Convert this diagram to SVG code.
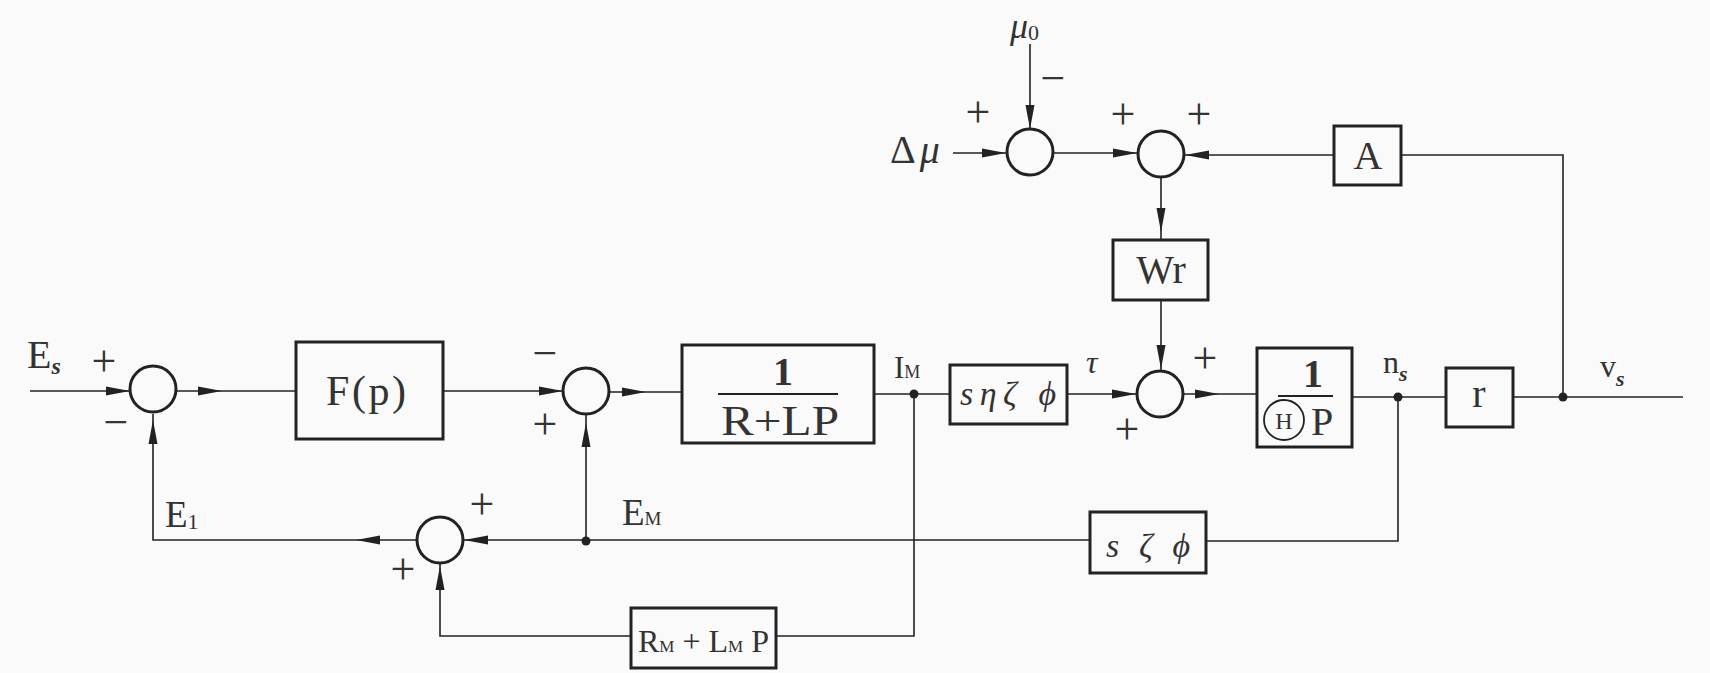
<svg xmlns="http://www.w3.org/2000/svg" xmlns:xlink="http://www.w3.org/1999/xlink" width="1710" height="673" viewBox="0 0 1710 673">
<style>
.ln{fill:none;stroke:#222;stroke-width:1.6}
.bx{fill:none;stroke:#222;stroke-width:3}
.sj{fill:none;stroke:#222;stroke-width:3}
.dot{fill:#222}
.ah{fill:#222}
text{font-family:"Liberation Serif","Times New Roman",serif;fill:#333}
.t{font-size:40px}
.lb{font-size:37px}
.sg{font-size:44px;text-anchor:middle}
.it{font-style:italic}
.c{text-anchor:middle}
.b{font-weight:bold}
</style>
<defs>
<path id="ah" d="M0,0 L-24,-4.5 L-24,4.5 Z"/>
</defs>
<rect width="1710" height="673" fill="#fafafa"/>

<g id="connectors">
<polyline class="ln" points="30,391 130,391"/>
<polyline class="ln" points="176,391 296,391"/>
<polyline class="ln" points="443,391 563,391"/>
<polyline class="ln" points="609,392 682,392"/>
<polyline class="ln" points="874,394 950,394"/>
<polyline class="ln" points="1067,394 1137,394"/>
<polyline class="ln" points="1183,394 1257,394"/>
<polyline class="ln" points="1352,397 1446,397"/>
<polyline class="ln" points="1513,397 1683,397"/>
<polyline class="ln" points="153,414 153,540 417,540"/>
<polyline class="ln" points="463,540 1090,540"/>
<polyline class="ln" points="1206,541 1398,541 1398,397"/>
<polyline class="ln" points="586,541 586,414"/>
<polyline class="ln" points="914,394 914,636 776,636"/>
<polyline class="ln" points="631,636 440,636 440,563"/>
<polyline class="ln" points="953,153 1007,153"/>
<polyline class="ln" points="1030,44 1030,129"/>
<polyline class="ln" points="1053,153 1138,153"/>
<polyline class="ln" points="1334,155 1184,155"/>
<polyline class="ln" points="1401,155 1563,155 1563,397"/>
<polyline class="ln" points="1161,177 1161,240"/>
<polyline class="ln" points="1161,300 1161,371"/>
<use href="#ah" class="ah" transform="translate(130,391)"/>
<use href="#ah" class="ah" transform="translate(222,391)"/>
<use href="#ah" class="ah" transform="translate(153,420) rotate(-90)"/>
<use href="#ah" class="ah" transform="translate(563,391)"/>
<use href="#ah" class="ah" transform="translate(646,392)"/>
<use href="#ah" class="ah" transform="translate(586,423) rotate(-90)"/>
<use href="#ah" class="ah" transform="translate(356,540) rotate(180)"/>
<use href="#ah" class="ah" transform="translate(464,540) rotate(180)"/>
<use href="#ah" class="ah" transform="translate(440,566) rotate(-90)"/>
<use href="#ah" class="ah" transform="translate(1136,394)"/>
<use href="#ah" class="ah" transform="translate(1219,394)"/>
<use href="#ah" class="ah" transform="translate(1161,369) rotate(90)"/>
<use href="#ah" class="ah" transform="translate(1161,232) rotate(90)"/>
<use href="#ah" class="ah" transform="translate(1006,153)"/>
<use href="#ah" class="ah" transform="translate(1030,129) rotate(90)"/>
<use href="#ah" class="ah" transform="translate(1137,153)"/>
<use href="#ah" class="ah" transform="translate(1185,155) rotate(180)"/>
<circle class="dot" cx="914" cy="394" r="4.5"/>
<circle class="dot" cx="586" cy="541" r="4.5"/>
<circle class="dot" cx="1398" cy="397" r="4.5"/>
<circle class="dot" cx="1563" cy="397" r="4.5"/>
</g>

<g id="sum1">
<circle class="sj" cx="153" cy="389" r="23"/>
<text class="sg" x="104" y="376">+</text>
<text class="sg" x="116" y="437">−</text>
</g>
<g id="sum3">
<circle class="sj" cx="586" cy="391" r="23"/>
<text class="sg" x="545" y="368">−</text>
<text class="sg" x="545" y="439">+</text>
</g>
<g id="sum2">
<circle class="sj" cx="440" cy="540" r="23"/>
<text class="sg" x="482" y="519">+</text>
<text class="sg" x="403" y="584">+</text>
</g>
<g id="sum4">
<circle class="sj" cx="1160" cy="394" r="23"/>
<text class="sg" x="1205" y="373">+</text>
<text class="sg" x="1127" y="444">+</text>
</g>
<g id="sum5">
<circle class="sj" cx="1030" cy="152" r="23"/>
<text class="sg" x="978" y="127">+</text>
<text class="sg" x="1053" y="93">−</text>
</g>
<g id="sum6">
<circle class="sj" cx="1161" cy="154" r="23"/>
<text class="sg" x="1123" y="129">+</text>
<text class="sg" x="1199" y="129">+</text>
</g>

<g id="Fp">
<rect class="bx" x="296" y="342" width="147" height="97"/>
<text class="c" x="366" y="405" font-size="42" textLength="80" lengthAdjust="spacing">F(p)</text>
</g>
<g id="RLP">
<rect class="bx" x="682" y="345" width="192" height="98"/>
<text class="t c b" x="783" y="385">1</text>
<line x1="718" y1="394" x2="838" y2="394" stroke="#222" stroke-width="2"/>
<text class="c" x="780" y="435" font-size="42" textLength="118" lengthAdjust="spacingAndGlyphs">R+LP</text>
</g>
<g id="seta">
<rect class="bx" x="950" y="365" width="117" height="59"/>
<text class="c" x="1008" y="405" font-size="34" textLength="96" lengthAdjust="spacing"><tspan class="it">s</tspan><tspan class="it">ηζ</tspan> <tspan class="it">ϕ</tspan></text>
</g>
<g id="HP">
<rect class="bx" x="1257" y="348" width="95" height="99"/>
<text class="t c b" x="1313" y="387">1</text>
<line x1="1278" y1="396" x2="1333" y2="396" stroke="#222" stroke-width="2"/>
<circle cx="1284" cy="420" r="20" fill="none" stroke="#222" stroke-width="1.8"/>
<text class="c" x="1284" y="429" font-size="24">H</text>
<text class="t" x="1311" y="435">P</text>
</g>
<g id="r">
<rect class="bx" x="1446" y="368" width="67" height="59"/>
<text class="t c" x="1479" y="407">r</text>
</g>
<g id="A">
<rect class="bx" x="1334" y="126" width="67" height="59"/>
<text class="t c" x="1368" y="169">A</text>
</g>
<g id="Wr">
<rect class="bx" x="1113" y="240" width="95" height="60"/>
<text class="t c" x="1161" y="283">Wr</text>
</g>
<g id="szphi">
<rect class="bx" x="1090" y="512" width="116" height="61"/>
<text class="c" x="1148" y="557" font-size="34" textLength="84" lengthAdjust="spacing"><tspan class="it">s</tspan> <tspan class="it">ζ</tspan> <tspan class="it">ϕ</tspan></text>
</g>
<g id="RMLM">
<rect class="bx" x="631" y="608" width="145" height="60"/>
<text x="638" y="652" font-size="32">R<tspan font-size="17">M</tspan> + L<tspan font-size="17">M</tspan> P</text>
</g>

<g id="labels">
<text class="t" x="27" y="368">E<tspan class="it b" font-size="24" dy="6">s</tspan></text>
<text class="lb" x="165" y="527">E<tspan font-size="22" dy="2">1</tspan></text>
<text class="lb" x="622" y="525">E<tspan font-size="19">M</tspan></text>
<text font-size="31" x="894" y="378">I<tspan font-size="18">M</tspan></text>
<text class="it" font-size="32" x="1086" y="373">τ</text>
<text font-size="32" x="1383" y="373">n<tspan class="it b" font-size="22" dy="8">s</tspan></text>
<text font-size="32" x="1600" y="377">v<tspan class="it b" font-size="22" dy="9">s</tspan></text>
<text font-size="40" x="890" y="163">Δ<tspan class="it" dx="4">μ</tspan></text>
<text class="it" font-size="36" x="1010" y="38">μ<tspan font-style="normal" font-size="22" dy="2">0</tspan></text>
</g>
</svg>
